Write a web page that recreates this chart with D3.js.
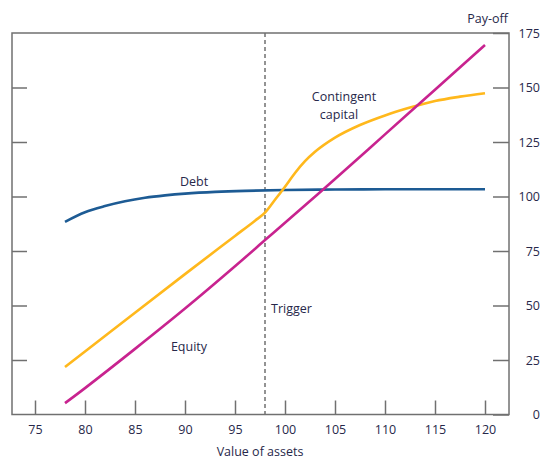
<!DOCTYPE html>
<html>
<head>
<meta charset="utf-8">
<script src="https://cdn.jsdelivr.net/npm/d3@7"></script>
<style>
    body { margin: 0; background: #fff; }
    text { font-family: "Open Sans", sans-serif; fill: #27284a; }
</style>
</head>
<body>
<svg id="drawing_region"></svg>
<script>
// values of assets on the x axis
const x_ticks = [75, 80, 85, 90, 95, 100, 105, 110, 115, 120];
const y_ticks = [0, 25, 50, 75, 100, 125, 150, 175];
const trigger = 98;

// debt pay-off
const debt_x = [78, 80, 82, 84, 86, 88, 90, 93, 96, 100, 105, 110, 115, 120];
const debt_y = [88.4, 92.8, 95.6, 97.8, 99.4, 100.5, 101.3, 102.1, 102.6, 103.0, 103.2, 103.3, 103.3, 103.3];

// equity pay-off
const equity_x = [78, 80, 85, 90, 95, 98, 100, 105, 110, 115, 120];
const equity_y = [5.2, 12.1, 30.1, 48.6, 68, 80, 88, 108, 128.5, 149, 169.5];

// contingent capital pay-off
const coco_x = [78, 80, 85, 90, 95, 97, 98, 99, 100, 101, 102, 103, 105, 107.5, 110, 112.5, 115, 117.5, 120];
const coco_y = [21.8, 28.9, 46.7, 64.4, 81.9, 88.9, 92.6, 98.5, 104.5, 110.8, 116.2, 120.5, 127, 132.8, 137.2, 140.8, 143.8, 145.8, 147.4];

draw();

function draw() {

    const width  = 543;
    const height = 459;
    const margin = { top: 33, right: 34, bottom: 44.5, left: 12 };

    const svg = d3.select('#drawing_region')
        .attr('width', width)
        .attr('height', height);

    const chart = svg.append('g')
        .attr('transform', `translate(${margin.left}, ${margin.top})`);

    const inner_width  = width  - margin.left - margin.right;
    const inner_height = height - margin.top  - margin.bottom;

    const xscale = d3.scaleLinear()
        .domain([72.7, 122.4])
        .range([0, inner_width]);

    const yscale = d3.scaleLinear()
        .domain([0, 175])
        .range([inner_height, 0]);

    const axis_color = '#707070';

    // x axis, ticks pointing up
    const xaxis = chart.append('g')
        .attr('transform', `translate(0, ${inner_height})`)
        .call(d3.axisBottom(xscale)
            .tickValues(x_ticks)
            .tickSizeInner(-14)
            .tickSizeOuter(0)
            .tickPadding(11));

    // right axis with labels
    const raxis = chart.append('g')
        .attr('transform', `translate(${inner_width}, 0)`)
        .call(d3.axisRight(yscale)
            .tickValues(y_ticks)
            .tickSizeInner(-16)
            .tickSizeOuter(0)
            .tickPadding(10));

    raxis.selectAll('text')
        .attr('text-anchor', 'end')
        .attr('x', 31);

    // left axis, ticks only
    chart.append('g')
        .call(d3.axisLeft(yscale)
            .tickValues(y_ticks.slice(1, -1))
            .tickSizeInner(-15)
            .tickSizeOuter(0)
            .tickFormat(''));

    [xaxis, raxis].forEach(a => {
        a.selectAll('text')
            .attr('font-size', '12.5px')
            .attr('fill', '#27284a');
    });

    chart.selectAll('.domain').remove();
    chart.selectAll('.tick line')
        .attr('stroke', axis_color)
        .attr('stroke-width', 1.5);

    // frame
    chart.append('rect')
        .attr('x', 0)
        .attr('y', 0)
        .attr('width', inner_width)
        .attr('height', inner_height)
        .attr('fill', 'none')
        .attr('stroke', axis_color)
        .attr('stroke-width', 1.5);

    // trigger line
    chart.append('line')
        .attr('x1', xscale(trigger))
        .attr('x2', xscale(trigger))
        .attr('y1', yscale(175))
        .attr('y2', yscale(0))
        .attr('stroke', axis_color)
        .attr('stroke-width', 1.5)
        .attr('stroke-dasharray', '4,3');

    const smooth = d3.line()
        .x(d => xscale(d[0]))
        .y(d => yscale(d[1]))
        .curve(d3.curveCatmullRom.alpha(0.5));

    const mono = d3.line()
        .x(d => xscale(d[0]))
        .y(d => yscale(d[1]))
        .curve(d3.curveMonotoneX);

    const series = [
        { xs: debt_x,   ys: debt_y,   color: '#1d5b94', line: smooth },
        { xs: coco_x,   ys: coco_y,   color: '#ffb81c', line: mono },
        { xs: equity_x, ys: equity_y, color: '#c8238f', line: smooth }
    ];

    series.forEach(s => {
        chart.append('path')
            .datum(s.xs.map((v, i) => [v, s.ys[i]]))
            .attr('fill', 'none')
            .attr('stroke', s.color)
            .attr('stroke-width', 2.6)
            .attr('d', s.line);
    });

    // labels
    const labels = [
        { text: 'Debt',       x: 194, y: 186, anchor: 'middle' },
        { text: 'Contingent', x: 344, y: 101, anchor: 'middle' },
        { text: 'capital',    x: 339, y: 119, anchor: 'middle' },
        { text: 'Equity',     x: 189, y: 351, anchor: 'middle' },
        { text: 'Trigger',    x: 271, y: 313, anchor: 'start' },
        { text: 'Pay-off',    x: 508, y: 23,  anchor: 'end' },
        { text: 'Value of assets', x: 260, y: 456, anchor: 'middle' }
    ];

    svg.selectAll('.label')
        .data(labels)
        .enter()
        .append('text')
        .attr('class', 'label')
        .attr('x', d => d.x)
        .attr('y', d => d.y)
        .attr('text-anchor', d => d.anchor)
        .attr('font-size', '12.5px')
        .text(d => d.text);
}
</script>
</body>
</html>
